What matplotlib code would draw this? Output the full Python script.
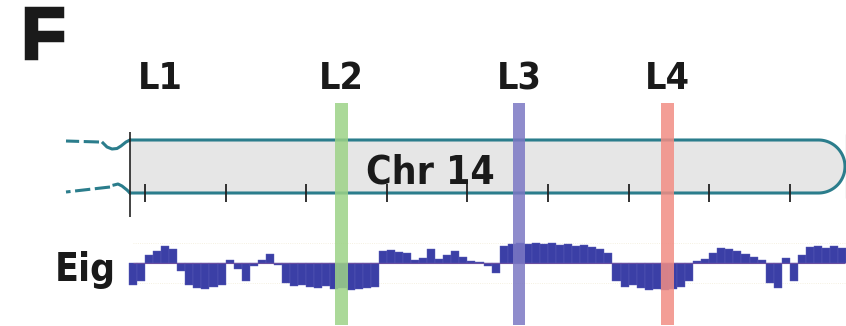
import numpy as np
import matplotlib
matplotlib.use("Agg")
import matplotlib.pyplot as plt
import matplotlib.patheffects as pe
from matplotlib.patches import Polygon

plt.rcParams['font.family'] = ['DejaVu Sans']
plt.rcParams['font.stretch'] = 'condensed'

# eigenvector track, one value per 1 Mb bin starting at 18 Mb (positive = up)
eig_start = 18
eig = [-22, -18, 8, 12, 17, 14, -8, -22, -25, -26, -24, -22, 3, -6, -18, -3,
       3, 9, -2, -20, -23, -22, -24, -25, -23, -26, -25, -27, -26, -25, -24,
       12, 13, 11, 10, 3, 5, 14, 4, 8, 12, 6, 2, 1, -3, -10,
       17, 19, 20, 19, 20, 19, 20, 18, 19, 17, 18, 16, 14, 10,
       -18, -24, -22, -25, -27, -26, -27, -26, -24, -18,
       2, 4, 10, 15, 14, 12, 9, 6, 3, -20, -25, 5, -18,
       8, 16, 17, 15, 17, 15]

loci = ['L1', 'L2', 'L3', 'L4']
locus_mb = [21.9, 44.4, 66.4, 84.8]
band_colors = [None, '#9dd387', '#7b78c4', '#f28d84']
tick_mb = [20, 30, 40, 50, 60, 70, 80, 90, 100]

# pixel <-> Mb mapping for the layout
def mb(px):
    return 20 + (np.asarray(px, dtype=float) - 145) / 8.06

fig = plt.figure(figsize=(8.46, 3.26), dpi=100)
ax = fig.add_axes([0, 0, 1, 1])
ax.set_xlim(mb(0), mb(846))
ax.set_ylim(326, 0)
ax.axis('off')

teal = '#2b7d8c'
lw_c = 2.2

# chromosome body with rounded right end
top, bot = 140, 193
cy, r = (top + bot) / 2, (bot - top) / 2
cx = mb(845) - r / 8.06
t = np.linspace(np.pi / 2, -np.pi / 2, 60)
arc_x = cx + (r / 8.06) * np.cos(t)
arc_y = cy - r * np.sin(t)
body_x = np.concatenate([[mb(130)], arc_x, [mb(130)]])
body_y = np.concatenate([[top], arc_y, [bot]])
ax.add_patch(Polygon(np.column_stack([body_x, body_y]), closed=True,
                     facecolor='#e6e6e6', edgecolor='none', zorder=1))
ax.plot(body_x, body_y, color=teal, lw=lw_c, zorder=3, solid_capstyle='round')

# pinched left end (centromere side)
ax.plot(mb([130, 126, 121, 117, 112, 107, 103]), [140, 142, 146, 148.5, 149, 147, 143],
        color=teal, lw=lw_c, zorder=3)
ax.plot(mb([99, 66]), [142, 141], color=teal, lw=lw_c, ls=(0, (5, 1.5)), zorder=3)
ax.plot(mb([130, 127, 122, 118, 114]), [193, 190, 186, 184, 185],
        color=teal, lw=lw_c, zorder=3)
ax.plot(mb([110, 66]), [187, 192], color=teal, lw=lw_c, ls=(0, (5, 1.5)), zorder=3)

# scale ticks and end bars
ax.vlines(tick_mb, 184, 202, color='#222222', lw=1.3, zorder=4)
ax.vlines(mb(130), 132, 217, color='#222222', lw=1.2, zorder=4)
ax.vlines(mb(845.5), 134, 198, color='#555555', lw=0.8, zorder=4)

ax.text(mb(430), 183, 'Chr 14', fontsize=28, fontweight='bold', ha='center',
        va='baseline', color='#1a1a1a', zorder=5)

# eigenvector bars
base = 263
pos = eig_start + np.arange(len(eig))
ax.hlines([243, 283], mb(133), mb(845), color='#f1ecd8', lw=0.6, ls=':', zorder=1)
ax.bar(pos, -np.array(eig), width=1.0, bottom=base, align='edge',
       color='#3b3fa6', edgecolor='#5a5cb8', lw=0.3, zorder=2)
ax.hlines(base, mb(133), mb(845), color='#6b4fa0', lw=0.8, zorder=2)

ax.text(mb(55), 281, 'Eig', fontsize=28, fontweight='bold', ha='left',
        va='baseline', color='#1a1a1a')

# loci bands and labels
for name, x, c in zip(loci, locus_mb, band_colors):
    if c is not None:
        ax.axvspan(x - 0.8, x + 0.8, ymin=0.003, ymax=1 - 103 / 326,
                   color=c, alpha=0.85, lw=0, zorder=6)
    ax.text(x, 89, name, fontsize=27, fontweight='bold', ha='center',
            va='baseline', color='#1a1a1a')

ax.text(mb(21), 58, 'F', fontsize=52, fontweight='bold', ha='left',
        va='baseline', color='#1a1a1a', family=['Liberation Sans', 'DejaVu Sans'],
        fontstretch='normal',
        path_effects=[pe.withStroke(linewidth=2.5, foreground='#1a1a1a',
                                    joinstyle='miter')])

fig.savefig('out.png', dpi=100)
